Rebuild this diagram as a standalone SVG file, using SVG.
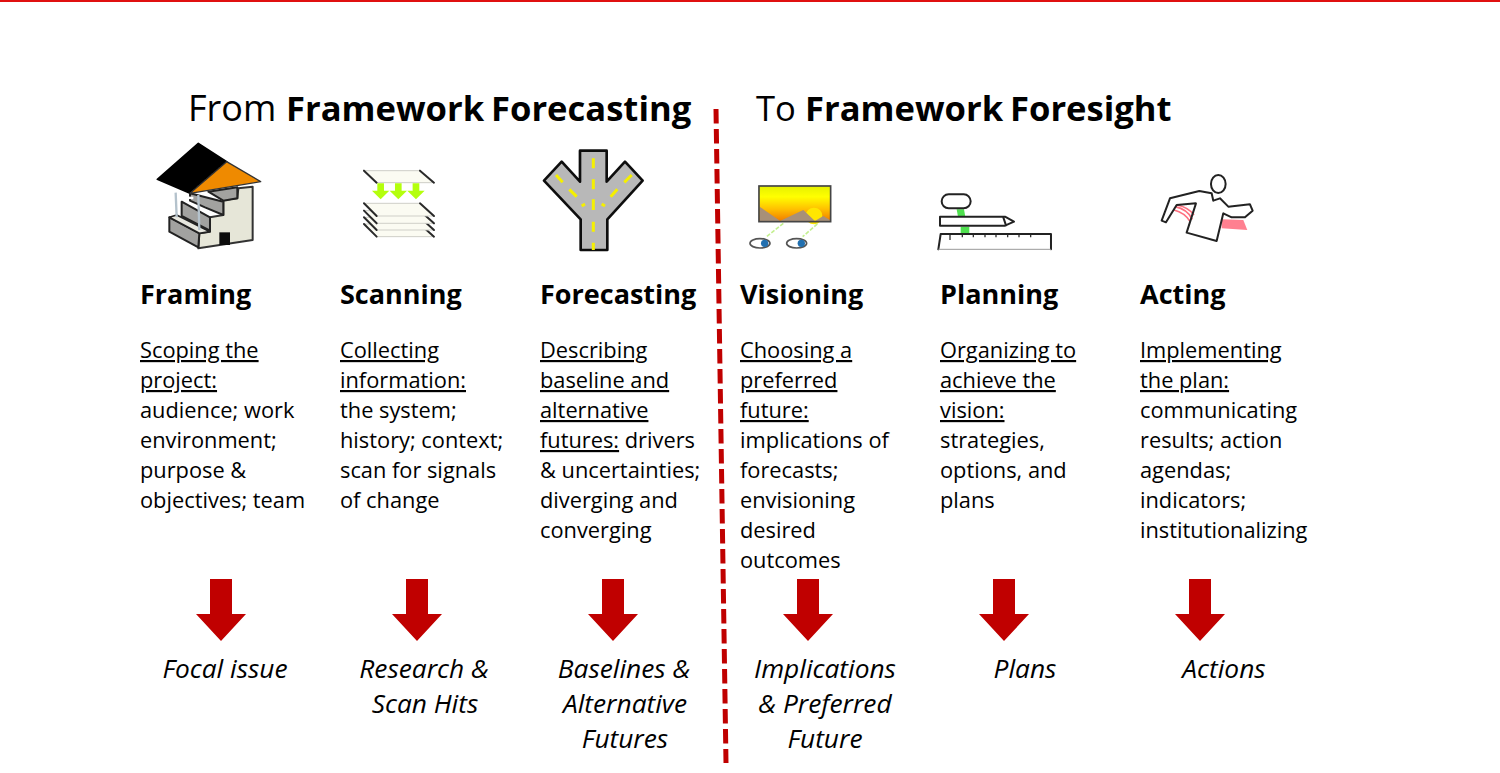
<svg xmlns="http://www.w3.org/2000/svg" width="1500" height="773" viewBox="0 0 1500 773">
<style>
text{font-family:"Open Sans","Noto Sans","Liberation Sans",sans-serif;fill:#000}
.t{font-size:34.6px}
.tb{font-size:34.6px;font-weight:700}
.h{font-size:27px;font-weight:700}
.b{font-size:21.8px}
.u{text-decoration:underline}
.o{font-size:26.3px;font-style:italic;text-anchor:middle}
.ic{filter:url(#soft)}
.k{fill:none;stroke:#222;stroke-width:6;stroke-linejoin:round;stroke-linecap:round}
.gr{fill:#a2a2a0;stroke:#222;stroke-width:6;stroke-linejoin:round}
.sh{fill:#fbfbf2;stroke:#cfcfc8;stroke-width:3}
.se{fill:none;stroke:#2a2a2a;stroke-width:6;stroke-linecap:round}
</style>
<defs>
<filter id="soft" x="-10%" y="-10%" width="120%" height="120%"><feGaussianBlur stdDeviation="1.6"/></filter>
<polygon id="arrow" points="-11,0 11,0 11,35 25,35 0,62 -25,35 -11,35" fill="#c00000"/>
<g id="sheet"><polygon class="sh" points="672,220 840,220 882,258 710,258"/><path class="se" d="M672,220L710,258M840,220L882,258"/></g>
<linearGradient id="sky" x1="0" y1="0" x2="0" y2="1"><stop offset="0" stop-color="#e4f000"/><stop offset=".3" stop-color="#ffff00"/><stop offset=".65" stop-color="#ffc000"/><stop offset="1" stop-color="#f07800"/></linearGradient>
</defs>
<rect width="1500" height="773" fill="#fff"/>
<rect x="0" y="0" width="1500" height="2" fill="#e01010"/>
<g id="connectors">
<line x1="716" y1="109" x2="726" y2="763" stroke="#c00000" stroke-width="5" stroke-dasharray="14.5 5.5"/>
<use href="#arrow" x="221" y="579"/><use href="#arrow" x="417" y="579"/><use href="#arrow" x="613" y="579"/><use href="#arrow" x="808" y="579"/><use href="#arrow" x="1004" y="579"/><use href="#arrow" x="1200" y="579"/>
</g>
<g id="titles">
<text class="t" x="188" y="121" style="font-size:36px">From</text>
<text class="tb" x="286" y="121">Framework</text>
<text class="tb" x="491" y="121">Forecasting</text>
<text class="t" x="756" y="121">To</text>
<text class="tb" x="805" y="121">Framework</text>
<text class="tb" x="1010" y="121">Foresight</text>
</g>
<g id="framing">
<g id="icon-house" class="ic" transform="translate(140,130) scale(.3333)">
<polygon points="295,175 338,170 338,330 175,355 178,310 210,305 210,262 250,255 250,210 292,205" fill="#e6e6d8" stroke="#333" stroke-width="6" stroke-linejoin="round"/>
<rect x="238" y="307" width="32" height="38" fill="#111"/>
<polygon class="gr" points="88,262 178,310 175,352 88,305"/>
<polygon points="88,262 110,255 210,305 178,310" fill="#e8e8e0" stroke="#222" stroke-width="5" stroke-linejoin="round"/>
<polygon class="gr" points="125,215 210,262 210,302 125,258"/>
<polygon class="gr" points="150,190 250,215 250,255 195,232 150,212"/>
<polygon class="gr" points="205,185 292,172 292,205 250,212"/>
<path d="M107,188L110,262M175,195L178,300" stroke="#b4c2cc" stroke-width="7" fill="none"/>
<path d="M115,202L160,204" stroke="#fff" stroke-width="7"/>
<polygon points="175,40 52,148 150,190 260,95" fill="#000" stroke="#000" stroke-width="5" stroke-linejoin="round"/>
<polygon points="260,95 362,155 150,190" fill="#ef8a00" stroke="#333" stroke-width="4" stroke-linejoin="round"/>
</g>
<text class="h" x="140" y="304">Framing</text>
<text class="b" x="140" y="358"><tspan class="u">Scoping the</tspan><tspan x="140" dy="30" class="u">project:</tspan><tspan x="140" dy="30">audience; work</tspan><tspan x="140" dy="30">environment;</tspan><tspan x="140" dy="30">purpose &amp;</tspan><tspan x="140" dy="30">objectives; team</tspan></text>
<text class="o" x="225" y="678">Focal issue</text>
</g>
<g id="scanning">
<g id="icon-sheets" class="ic" transform="translate(140,130) scale(.3333)">
<use href="#sheet" y="62"/><use href="#sheet" y="42"/><use href="#sheet" y="22"/><use href="#sheet"/>
<polygon class="sh" points="672,122 840,122 882,158 710,158"/><path class="se" d="M672,122L710,158M840,122L882,158"/>
<path d="M712,160h20v22h16l-26,26l-26,-26h16zM765,160h20v22h16l-26,26l-26,-26h16zM818,160h20v22h16l-26,26l-26,-26h16z" fill="#b4ff10"/>
</g>
<text class="h" x="340" y="304">Scanning</text>
<text class="b" x="340" y="358"><tspan class="u">Collecting</tspan><tspan x="340" dy="30" class="u">information:</tspan><tspan x="340" dy="30">the system;</tspan><tspan x="340" dy="30">history; context;</tspan><tspan x="340" dy="30">scan for signals</tspan><tspan x="340" dy="30">of change</tspan></text>
<text class="o" x="424" y="678">Research &amp;</text>
<text class="o" x="425" y="713">Scan Hits</text>
</g>
<g id="forecasting">
<g id="icon-road" transform="translate(530,130) scale(.3333)">
<g class="ic">
<polygon points="152,360 152,268 42,152 95,95 150,155 150,62 230,62 230,155 285,95 338,152 232,268 232,360" fill="#b8b8b8" stroke="#111" stroke-width="8" stroke-linejoin="round"/>
<path d="M190,85v30M190,148v30M190,208v32M190,275v30M190,338v22M78,135l20,22M118,178l22,22M305,135l-22,22M262,178l-20,22M155,228l10,-6M225,228l-10,-6" stroke="#f5f000" stroke-width="9" fill="none"/>
</g></g>
<text class="h" x="540" y="304">Forecasting</text>
<text class="b" x="540" y="358"><tspan class="u">Describing</tspan><tspan x="540" dy="30" class="u">baseline and</tspan><tspan x="540" dy="30" class="u">alternative</tspan><tspan x="540" dy="30"><tspan class="u">futures:</tspan> drivers</tspan><tspan x="540" dy="30">&amp; uncertainties;</tspan><tspan x="540" dy="30">diverging and</tspan><tspan x="540" dy="30">converging</tspan></text>
<text class="o" x="624" y="678">Baselines &amp;</text>
<text class="o" x="625" y="713">Alternative</text>
<text class="o" x="625" y="748">Futures</text>
</g>
<g id="visioning">
<g id="icon-vision" class="ic" transform="translate(530,130) scale(.3333)">
<rect x="687" y="168" width="215" height="107" fill="url(#sky)"/>
<circle cx="852" cy="258" r="25" fill="#ffe600"/>
<path d="M689,230l62,43h-62zM750,273l70,-33l35,33zM855,273l25,-15l20,12v3z" fill="#a89078"/>
<rect x="687" y="168" width="215" height="107" fill="none" stroke="#444" stroke-width="5"/>
<path d="M760,280L710,320M862,282L818,320" stroke="#c4f090" stroke-width="5" stroke-dasharray="12 5" fill="none"/>
<g fill="#fff" stroke="#555" stroke-width="5">
<ellipse cx="690" cy="340" rx="30" ry="14"/><ellipse cx="800" cy="340" rx="30" ry="14"/>
</g>
<circle cx="704" cy="340" r="11" fill="#2070b0"/><circle cx="814" cy="340" r="11" fill="#2070b0"/>
</g>
<text class="h" x="740" y="304">Visioning</text>
<text class="b" x="740" y="358"><tspan class="u">Choosing a</tspan><tspan x="740" dy="30" class="u">preferred</tspan><tspan x="740" dy="30" class="u">future:</tspan><tspan x="740" dy="30">implications of</tspan><tspan x="740" dy="30">forecasts;</tspan><tspan x="740" dy="30">envisioning</tspan><tspan x="740" dy="30">desired</tspan><tspan x="740" dy="30">outcomes</tspan></text>
<text class="o" x="825" y="678">Implications</text>
<text class="o" x="825" y="713">&amp; Preferred</text>
<text class="o" x="825" y="748">Future</text>
</g>
<g id="planning">
<g id="icon-plan" class="ic" transform="translate(920,160) scale(.3333)">
<path d="M110,148h22l4,22h-22zM122,200h26v20h-26z" fill="#50e050"/>
<rect x="65" y="103" width="87" height="42" rx="21" class="k"/>
<path d="M60,170H255L282,185L255,197H60Z" class="k"/><path d="M250,172L258,196" class="k" stroke-width="3"/>
<path d="M55,268L62,222H393V268" class="k"/>
<path d="M90,224v16M127,224v8M160,224v8M195,224v8M228,224v8M263,224v8M297,224v8M332,224v8" stroke="#333" stroke-width="4" fill="none"/>
<line x1="55" y1="268" x2="393" y2="268" stroke="#999" stroke-width="3"/>
</g>
<text class="h" x="940" y="304">Planning</text>
<text class="b" x="940" y="358"><tspan class="u">Organizing to</tspan><tspan x="940" dy="30" class="u">achieve the</tspan><tspan x="940" dy="30" class="u">vision:</tspan><tspan x="940" dy="30">strategies,</tspan><tspan x="940" dy="30">options, and</tspan><tspan x="940" dy="30">plans</tspan></text>
<text class="o" x="1025" y="678">Plans</text>
</g>
<g id="acting">
<g id="icon-act" class="ic" transform="translate(920,160) scale(.3333)">
<path d="M765,140q38,8 52,38" fill="none" stroke="#ff7080" stroke-width="5"/>
<path d="M772,135q35,8 50,30" fill="none" stroke="#ff7080" stroke-width="5"/>
<path d="M762,150q32,8 48,34" fill="none" stroke="#ff7080" stroke-width="5"/>
<polygon points="905,178 970,180 982,210 905,205" fill="#ff8090"/>
<ellipse cx="895" cy="72" rx="22" ry="27" class="k"/>
<path d="M725,182L750,115L838,93L875,100L880,122L900,115L925,140L990,133L998,152L975,172L935,172L910,160L890,243L800,218L828,130L770,135L738,187Z" class="k"/>
</g>
<text class="h" x="1140" y="304">Acting</text>
<text class="b" x="1140" y="358"><tspan class="u">Implementing</tspan><tspan x="1140" dy="30" class="u">the plan:</tspan><tspan x="1140" dy="30">communicating</tspan><tspan x="1140" dy="30">results; action</tspan><tspan x="1140" dy="30">agendas;</tspan><tspan x="1140" dy="30">indicators;</tspan><tspan x="1140" dy="30">institutionalizing</tspan></text>
<text class="o" x="1224" y="678">Actions</text>
</g>
</svg>
